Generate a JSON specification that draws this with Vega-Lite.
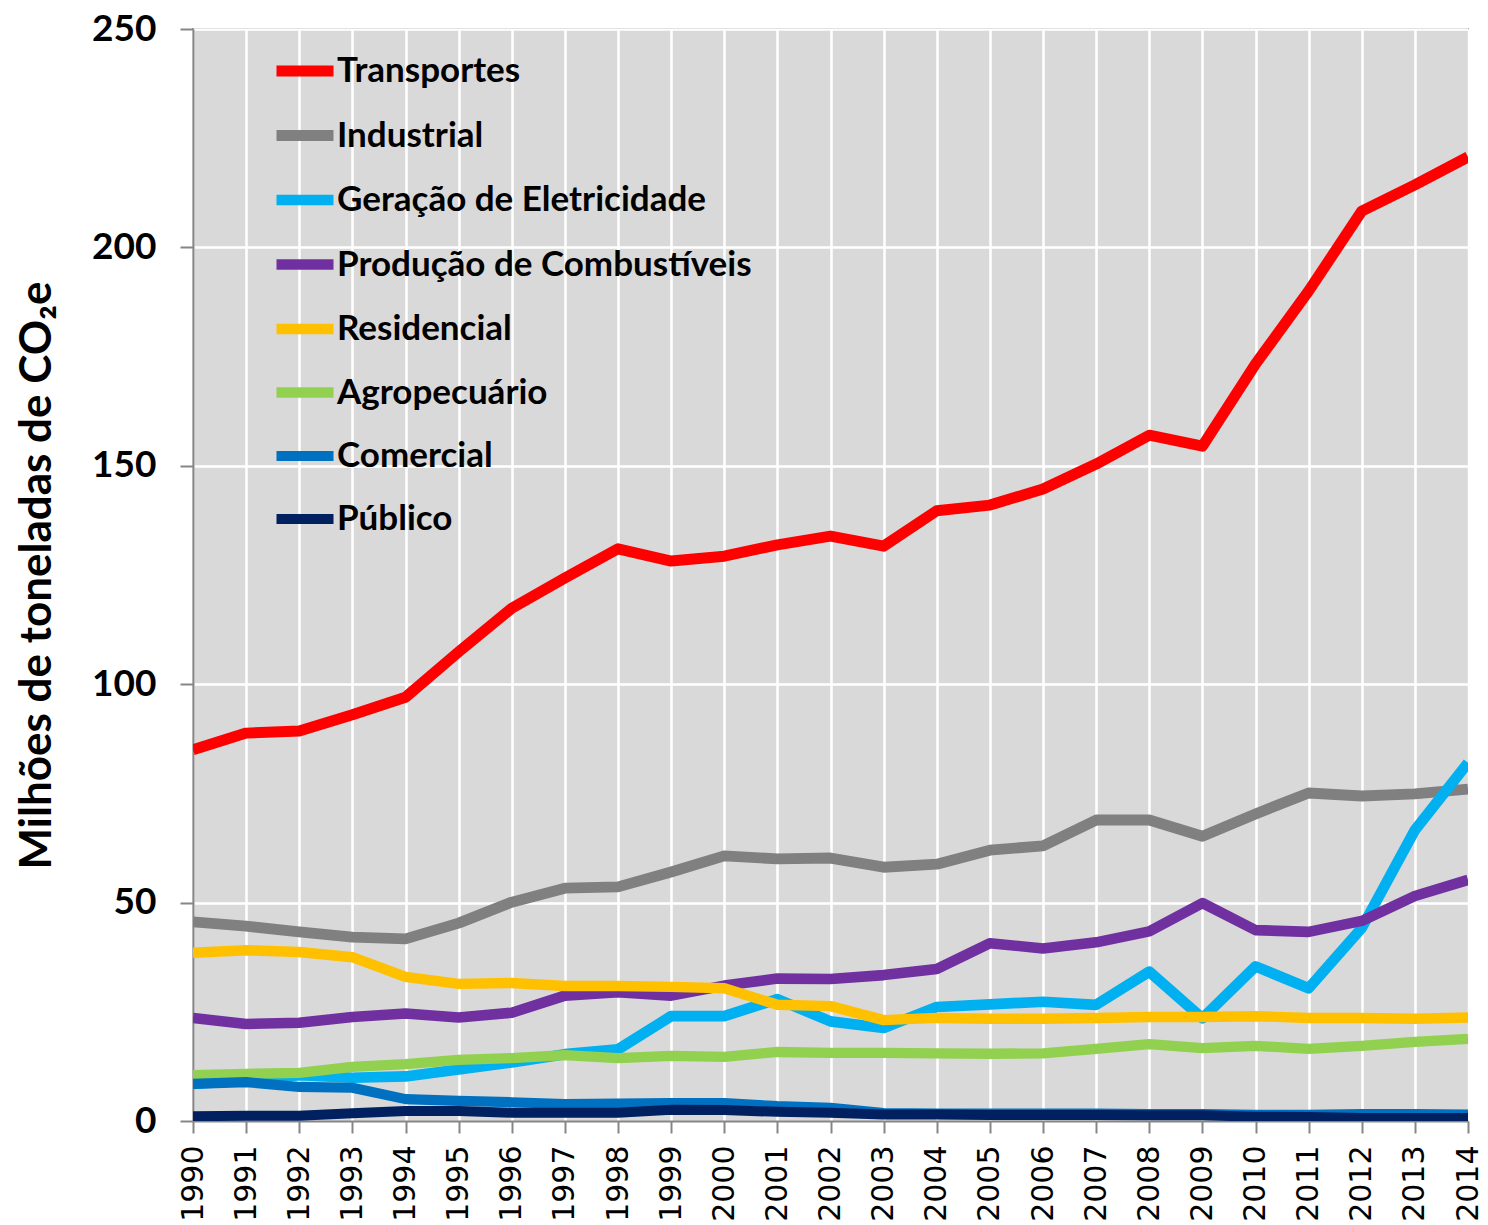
{
  "$schema": "https://vega.github.io/schema/vega-lite/v6.json",
  "width": 1275,
  "height": 1092,
  "autosize": {"type": "none"},
  "padding": {"left": 193, "top": 29, "right": 20, "bottom": 104},
  "background": "white",
  "datasets": {
    "emissions": [
      {"year":1990,"sector":"Transportes","value":85},{"year":1991,"sector":"Transportes","value":88.8},{"year":1992,"sector":"Transportes","value":89.3},{"year":1993,"sector":"Transportes","value":93},{"year":1994,"sector":"Transportes","value":97},{"year":1995,"sector":"Transportes","value":107.4},{"year":1996,"sector":"Transportes","value":117.4},{"year":1997,"sector":"Transportes","value":124.3},{"year":1998,"sector":"Transportes","value":131},{"year":1999,"sector":"Transportes","value":128.2},{"year":2000,"sector":"Transportes","value":129.3},{"year":2001,"sector":"Transportes","value":131.9},{"year":2002,"sector":"Transportes","value":133.9},{"year":2003,"sector":"Transportes","value":131.6},{"year":2004,"sector":"Transportes","value":139.7},{"year":2005,"sector":"Transportes","value":141},{"year":2006,"sector":"Transportes","value":144.7},{"year":2007,"sector":"Transportes","value":150.4},{"year":2008,"sector":"Transportes","value":157},{"year":2009,"sector":"Transportes","value":154.5},{"year":2010,"sector":"Transportes","value":173.3},{"year":2011,"sector":"Transportes","value":190},{"year":2012,"sector":"Transportes","value":208.3},{"year":2013,"sector":"Transportes","value":214.3},{"year":2014,"sector":"Transportes","value":220.7},
      {"year":1990,"sector":"Industrial","value":45.6},{"year":1991,"sector":"Industrial","value":44.6},{"year":1992,"sector":"Industrial","value":43.3},{"year":1993,"sector":"Industrial","value":42.1},{"year":1994,"sector":"Industrial","value":41.7},{"year":1995,"sector":"Industrial","value":45.3},{"year":1996,"sector":"Industrial","value":50.1},{"year":1997,"sector":"Industrial","value":53.3},{"year":1998,"sector":"Industrial","value":53.6},{"year":1999,"sector":"Industrial","value":57},{"year":2000,"sector":"Industrial","value":60.7},{"year":2001,"sector":"Industrial","value":60},{"year":2002,"sector":"Industrial","value":60.2},{"year":2003,"sector":"Industrial","value":58.1},{"year":2004,"sector":"Industrial","value":58.8},{"year":2005,"sector":"Industrial","value":62},{"year":2006,"sector":"Industrial","value":63},{"year":2007,"sector":"Industrial","value":68.9},{"year":2008,"sector":"Industrial","value":68.9},{"year":2009,"sector":"Industrial","value":65.2},{"year":2010,"sector":"Industrial","value":70.3},{"year":2011,"sector":"Industrial","value":75.1},{"year":2012,"sector":"Industrial","value":74.4},{"year":2013,"sector":"Industrial","value":74.9},{"year":2014,"sector":"Industrial","value":76},
      {"year":1990,"sector":"Geração de Eletricidade","value":8.5},{"year":1991,"sector":"Geração de Eletricidade","value":9.3},{"year":1992,"sector":"Geração de Eletricidade","value":10.5},{"year":1993,"sector":"Geração de Eletricidade","value":9.9},{"year":1994,"sector":"Geração de Eletricidade","value":10.2},{"year":1995,"sector":"Geração de Eletricidade","value":11.8},{"year":1996,"sector":"Geração de Eletricidade","value":13.4},{"year":1997,"sector":"Geração de Eletricidade","value":15.3},{"year":1998,"sector":"Geração de Eletricidade","value":16.4},{"year":1999,"sector":"Geração de Eletricidade","value":24},{"year":2000,"sector":"Geração de Eletricidade","value":24},{"year":2001,"sector":"Geração de Eletricidade","value":27.9},{"year":2002,"sector":"Geração de Eletricidade","value":22.8},{"year":2003,"sector":"Geração de Eletricidade","value":21.3},{"year":2004,"sector":"Geração de Eletricidade","value":26.1},{"year":2005,"sector":"Geração de Eletricidade","value":26.7},{"year":2006,"sector":"Geração de Eletricidade","value":27.3},{"year":2007,"sector":"Geração de Eletricidade","value":26.6},{"year":2008,"sector":"Geração de Eletricidade","value":34.2},{"year":2009,"sector":"Geração de Eletricidade","value":23.5},{"year":2010,"sector":"Geração de Eletricidade","value":35.4},{"year":2011,"sector":"Geração de Eletricidade","value":30.4},{"year":2012,"sector":"Geração de Eletricidade","value":44.2},{"year":2013,"sector":"Geração de Eletricidade","value":66.6},{"year":2014,"sector":"Geração de Eletricidade","value":82},
      {"year":1990,"sector":"Produção de Combustíveis","value":23.6},{"year":1991,"sector":"Produção de Combustíveis","value":22.2},{"year":1992,"sector":"Produção de Combustíveis","value":22.5},{"year":1993,"sector":"Produção de Combustíveis","value":23.8},{"year":1994,"sector":"Produção de Combustíveis","value":24.6},{"year":1995,"sector":"Produção de Combustíveis","value":23.7},{"year":1996,"sector":"Produção de Combustíveis","value":24.8},{"year":1997,"sector":"Produção de Combustíveis","value":28.7},{"year":1998,"sector":"Produção de Combustíveis","value":29.5},{"year":1999,"sector":"Produção de Combustíveis","value":28.7},{"year":2000,"sector":"Produção de Combustíveis","value":31},{"year":2001,"sector":"Produção de Combustíveis","value":32.6},{"year":2002,"sector":"Produção de Combustíveis","value":32.5},{"year":2003,"sector":"Produção de Combustíveis","value":33.4},{"year":2004,"sector":"Produção de Combustíveis","value":34.8},{"year":2005,"sector":"Produção de Combustíveis","value":40.7},{"year":2006,"sector":"Produção de Combustíveis","value":39.5},{"year":2007,"sector":"Produção de Combustíveis","value":40.9},{"year":2008,"sector":"Produção de Combustíveis","value":43.4},{"year":2009,"sector":"Produção de Combustíveis","value":49.9},{"year":2010,"sector":"Produção de Combustíveis","value":43.7},{"year":2011,"sector":"Produção de Combustíveis","value":43.3},{"year":2012,"sector":"Produção de Combustíveis","value":45.8},{"year":2013,"sector":"Produção de Combustíveis","value":51.5},{"year":2014,"sector":"Produção de Combustíveis","value":55.2},
      {"year":1990,"sector":"Residencial","value":38.5},{"year":1991,"sector":"Residencial","value":39.1},{"year":1992,"sector":"Residencial","value":38.7},{"year":1993,"sector":"Residencial","value":37.5},{"year":1994,"sector":"Residencial","value":33},{"year":1995,"sector":"Residencial","value":31.4},{"year":1996,"sector":"Residencial","value":31.6},{"year":1997,"sector":"Residencial","value":30.9},{"year":1998,"sector":"Residencial","value":30.9},{"year":1999,"sector":"Residencial","value":30.7},{"year":2000,"sector":"Residencial","value":30.4},{"year":2001,"sector":"Residencial","value":26.6},{"year":2002,"sector":"Residencial","value":26.3},{"year":2003,"sector":"Residencial","value":23.1},{"year":2004,"sector":"Residencial","value":23.6},{"year":2005,"sector":"Residencial","value":23.4},{"year":2006,"sector":"Residencial","value":23.4},{"year":2007,"sector":"Residencial","value":23.6},{"year":2008,"sector":"Residencial","value":23.8},{"year":2009,"sector":"Residencial","value":23.8},{"year":2010,"sector":"Residencial","value":24},{"year":2011,"sector":"Residencial","value":23.6},{"year":2012,"sector":"Residencial","value":23.6},{"year":2013,"sector":"Residencial","value":23.4},{"year":2014,"sector":"Residencial","value":23.7},
      {"year":1990,"sector":"Agropecuário","value":10.5},{"year":1991,"sector":"Agropecuário","value":10.8},{"year":1992,"sector":"Agropecuário","value":11},{"year":1993,"sector":"Agropecuário","value":12.4},{"year":1994,"sector":"Agropecuário","value":13},{"year":1995,"sector":"Agropecuário","value":14},{"year":1996,"sector":"Agropecuário","value":14.4},{"year":1997,"sector":"Agropecuário","value":15.1},{"year":1998,"sector":"Agropecuário","value":14.4},{"year":1999,"sector":"Agropecuário","value":14.9},{"year":2000,"sector":"Agropecuário","value":14.7},{"year":2001,"sector":"Agropecuário","value":15.8},{"year":2002,"sector":"Agropecuário","value":15.6},{"year":2003,"sector":"Agropecuário","value":15.6},{"year":2004,"sector":"Agropecuário","value":15.5},{"year":2005,"sector":"Agropecuário","value":15.4},{"year":2006,"sector":"Agropecuário","value":15.5},{"year":2007,"sector":"Agropecuário","value":16.5},{"year":2008,"sector":"Agropecuário","value":17.6},{"year":2009,"sector":"Agropecuário","value":16.7},{"year":2010,"sector":"Agropecuário","value":17.2},{"year":2011,"sector":"Agropecuário","value":16.5},{"year":2012,"sector":"Agropecuário","value":17.2},{"year":2013,"sector":"Agropecuário","value":18.1},{"year":2014,"sector":"Agropecuário","value":18.8},
      {"year":1990,"sector":"Comercial","value":8.5},{"year":1991,"sector":"Comercial","value":8.9},{"year":1992,"sector":"Comercial","value":7.8},{"year":1993,"sector":"Comercial","value":7.6},{"year":1994,"sector":"Comercial","value":5},{"year":1995,"sector":"Comercial","value":4.6},{"year":1996,"sector":"Comercial","value":4.3},{"year":1997,"sector":"Comercial","value":3.9},{"year":1998,"sector":"Comercial","value":4},{"year":1999,"sector":"Comercial","value":4.1},{"year":2000,"sector":"Comercial","value":4.1},{"year":2001,"sector":"Comercial","value":3.4},{"year":2002,"sector":"Comercial","value":3},{"year":2003,"sector":"Comercial","value":1.8},{"year":2004,"sector":"Comercial","value":1.7},{"year":2005,"sector":"Comercial","value":1.7},{"year":2006,"sector":"Comercial","value":1.7},{"year":2007,"sector":"Comercial","value":1.7},{"year":2008,"sector":"Comercial","value":1.6},{"year":2009,"sector":"Comercial","value":1.6},{"year":2010,"sector":"Comercial","value":1.4},{"year":2011,"sector":"Comercial","value":1.4},{"year":2012,"sector":"Comercial","value":1.6},{"year":2013,"sector":"Comercial","value":1.6},{"year":2014,"sector":"Comercial","value":1.5},
      {"year":1990,"sector":"Público","value":1.1},{"year":1991,"sector":"Público","value":1.2},{"year":1992,"sector":"Público","value":1.2},{"year":1993,"sector":"Público","value":1.8},{"year":1994,"sector":"Público","value":2.3},{"year":1995,"sector":"Público","value":2.3},{"year":1996,"sector":"Público","value":1.9},{"year":1997,"sector":"Público","value":1.9},{"year":1998,"sector":"Público","value":1.9},{"year":1999,"sector":"Público","value":2.6},{"year":2000,"sector":"Público","value":2.5},{"year":2001,"sector":"Público","value":2.1},{"year":2002,"sector":"Público","value":1.9},{"year":2003,"sector":"Público","value":1.5},{"year":2004,"sector":"Público","value":1.5},{"year":2005,"sector":"Público","value":1.4},{"year":2006,"sector":"Público","value":1.4},{"year":2007,"sector":"Público","value":1.4},{"year":2008,"sector":"Público","value":1.3},{"year":2009,"sector":"Público","value":1.3},{"year":2010,"sector":"Público","value":1.0},{"year":2011,"sector":"Público","value":0.9},{"year":2012,"sector":"Público","value":0.7},{"year":2013,"sector":"Público","value":0.7},{"year":2014,"sector":"Público","value":0.7}
    ]
  },
  "data": {"name": "emissions"},
  "mark": {"type": "line", "strokeJoin": "round", "clip": true},
  "encoding": {
    "x": {
      "field": "year",
      "type": "quantitative",
      "scale": {"domain": [1990, 2014], "nice": false, "zero": false},
      "axis": {
        "values": [1990,1991,1992,1993,1994,1995,1996,1997,1998,1999,2000,2001,2002,2003,2004,2005,2006,2007,2008,2009,2010,2011,2012,2013,2014],
        "format": "d",
        "title": null,
        "labelAngle": 270,
        "labelAlign": "right",
        "labelBaseline": "middle",
        "labelFont": "DejaVu Sans",
        "labelFontSize": 30,
        "labelColor": "black",
        "labelPadding": 12,
        "labelOverlap": false,
        "labelFlush": false,
        "tickSize": 12,
        "tickColor": "#868686",
        "tickWidth": 2,
        "domainColor": "#868686",
        "domainWidth": 2,
        "grid": true,
        "gridColor": "white",
        "gridWidth": 2.5
      }
    },
    "y": {
      "field": "value",
      "type": "quantitative",
      "scale": {"domain": [0, 250], "nice": false},
      "axis": {
        "values": [0, 50, 100, 150, 200, 250],
        "title": "Milhões de toneladas de CO₂e",
        "titleFont": "Lato",
        "titleFontSize": 44,
        "titleFontWeight": "bold",
        "titleColor": "black",
        "titlePadding": 32,
        "labelFont": "Lato",
        "labelFontSize": 37,
        "labelFontWeight": "bold",
        "labelColor": "black",
        "labelPadding": 24,
        "tickSize": 13,
        "tickColor": "#868686",
        "tickWidth": 2,
        "domainColor": "#868686",
        "domainWidth": 2,
        "grid": true,
        "gridColor": "white",
        "gridWidth": 2.5
      }
    },
    "color": {
      "field": "sector",
      "type": "nominal",
      "scale": {
        "domain": ["Transportes", "Industrial", "Geração de Eletricidade", "Produção de Combustíveis", "Residencial", "Agropecuário", "Comercial", "Público"],
        "range": ["#ff0000", "#808080", "#00b0f0", "#7030a0", "#ffc000", "#92d050", "#0070c0", "#002060"]
      },
      "legend": {
        "title": null,
        "orient": "none",
        "legendX": 78,
        "legendY": 8,
        "symbolType": "stroke",
        "symbolSize": 3249,
        "labelFont": "Lato",
        "labelFontSize": 35,
        "labelFontWeight": "bold",
        "labelColor": "black",
        "labelOffset": -2,
        "rowPadding": 8.5,
        "labelLimit": 800
      }
    },
    "strokeWidth": {
      "field": "sector",
      "type": "nominal",
      "scale": {
        "domain": ["Transportes", "Industrial", "Geração de Eletricidade", "Produção de Combustíveis", "Residencial", "Agropecuário", "Comercial", "Público"],
        "range": [11, 10, 10, 10, 5, 5, 5, 5]
      }
    },
    "order": {"field": "year"}
  },
  "config": {
    "view": {"stroke": "#868686", "strokeWidth": 2, "fill": "#d9d9d9"}
  }
}
